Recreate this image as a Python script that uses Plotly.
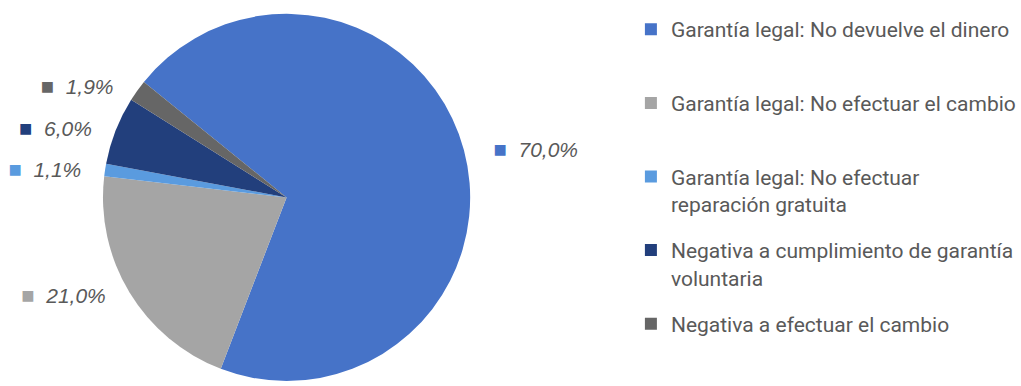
import math
import plotly.graph_objects as go

# Categories, shares (%) and slice colours
categories = [
    "Garantía legal: No devuelve el dinero",
    "Garantía legal: No efectuar el cambio",
    "Garantía legal: No efectuar<br>reparación gratuita",
    "Negativa a cumplimiento de garantía<br>voluntaria",
    "Negativa a efectuar el cambio",
]
shares = [70.0, 21.0, 1.1, 6.0, 1.9]
colors = ["#4673C8", "#A5A5A5", "#5A9BDF", "#223F7C", "#666666"]

TEXT = "#595959"
NBSP = "\u00a0"
ROTATION = 309

# slices on the right get padding before the label, slices on the left after it,
# so every label sits a little further out from the pie
total = sum(shares)
texts, start = [], 0.0
for v, c in zip(shares, colors):
    mid = math.radians(ROTATION + (start + v / 2) / total * 360)
    start += v
    square = f"<span style='color:{c};font-size:22px'>■</span>{NBSP * 2}"
    if math.sin(mid) >= 0:
        texts.append(NBSP * 4 + square + "%{value:.1f}%")
    else:
        texts.append(square + "%{value:.1f}%" + NBSP * 3)

fig = go.Figure()
fig.add_trace(go.Pie(
    labels=categories,
    values=shares,
    sort=False,
    direction="clockwise",
    rotation=ROTATION,
    marker=dict(colors=colors, line=dict(width=0)),
    texttemplate=[t.replace("%{value:.1f}%", "<i>%{value:.1f}%</i>") for t in texts],
    textposition="outside",
    textfont=dict(family="Liberation Sans", size=21, color=TEXT),
    showlegend=False,
    hoverinfo="label+percent",
    domain=dict(x=[0.0979, 0.4623], y=[0.0, 0.9637]),
))

# legend entries, one group each so the rows are evenly spaced
for i, (name, c) in enumerate(zip(categories, colors)):
    label = name if "<br>" in name else name + "<br> "
    fig.add_trace(go.Scatter(
        x=[None], y=[None], mode="markers",
        marker=dict(symbol="square", size=12, color=c),
        name=label, legendgroup=f"g{i}", showlegend=True,
    ))

fig.update_layout(
    width=1021, height=386,
    margin=dict(l=0, r=0, t=0, b=0),
    paper_bgcolor="white", plot_bgcolor="white",
    separators=",.",
    xaxis=dict(visible=False), yaxis=dict(visible=False),
    legend=dict(
        x=0.619, y=0.976, xanchor="left", yanchor="top",
        valign="top", tracegroupgap=16,
        font=dict(family="Roboto", size=21, color=TEXT),
        bgcolor="rgba(0,0,0,0)",
    ),
)

fig.write_html("out.html")
